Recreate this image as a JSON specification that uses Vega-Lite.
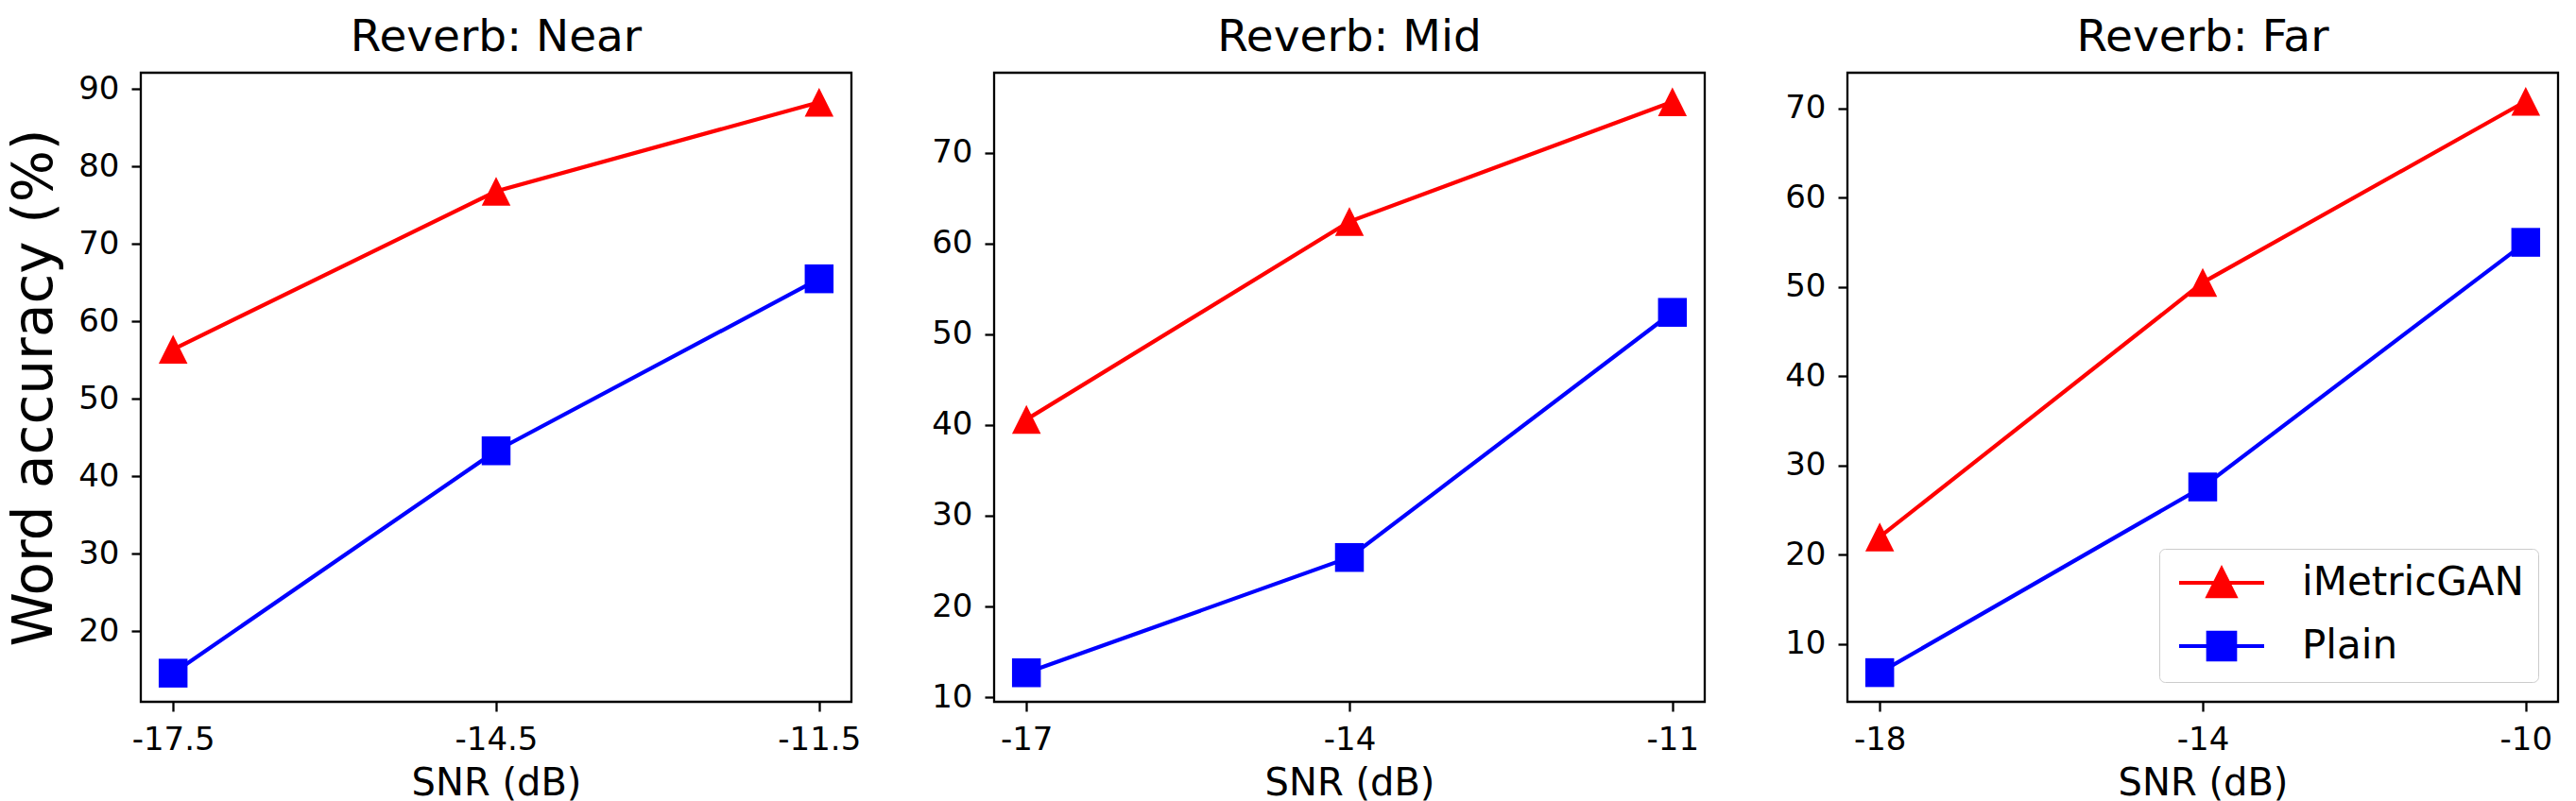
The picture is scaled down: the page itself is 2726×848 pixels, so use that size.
{
  "$schema": "https://vega.github.io/schema/vega-lite/v6.json",
  "padding": {"left": 7, "top": 14, "right": 10, "bottom": 0},
  "datasets": {
    "acc": [
      {"reverb": "Near", "snr": -17.5, "model": "iMetricGAN", "accuracy": 56.4},
      {"reverb": "Near", "snr": -14.5, "model": "iMetricGAN", "accuracy": 76.8},
      {"reverb": "Near", "snr": -11.5, "model": "iMetricGAN", "accuracy": 88.3},
      {"reverb": "Near", "snr": -17.5, "model": "Plain", "accuracy": 14.6},
      {"reverb": "Near", "snr": -14.5, "model": "Plain", "accuracy": 43.3},
      {"reverb": "Near", "snr": -11.5, "model": "Plain", "accuracy": 65.5},
      {"reverb": "Mid", "snr": -17, "model": "iMetricGAN", "accuracy": 40.6},
      {"reverb": "Mid", "snr": -14, "model": "iMetricGAN", "accuracy": 62.4},
      {"reverb": "Mid", "snr": -11, "model": "iMetricGAN", "accuracy": 75.6},
      {"reverb": "Mid", "snr": -17, "model": "Plain", "accuracy": 12.7},
      {"reverb": "Mid", "snr": -14, "model": "Plain", "accuracy": 25.4},
      {"reverb": "Mid", "snr": -11, "model": "Plain", "accuracy": 52.4},
      {"reverb": "Far", "snr": -18, "model": "iMetricGAN", "accuracy": 22.0},
      {"reverb": "Far", "snr": -14, "model": "iMetricGAN", "accuracy": 50.5},
      {"reverb": "Far", "snr": -10, "model": "iMetricGAN", "accuracy": 70.8},
      {"reverb": "Far", "snr": -18, "model": "Plain", "accuracy": 6.8},
      {"reverb": "Far", "snr": -14, "model": "Plain", "accuracy": 27.6},
      {"reverb": "Far", "snr": -10, "model": "Plain", "accuracy": 55.0}
    ]
  },
  "data": {"name": "acc"},
  "bounds": "flush",
  "spacing": 151,
  "hconcat": [
    {
      "title": "Reverb: Near",
      "width": 752,
      "height": 666,
      "transform": [{"filter": "datum.reverb === 'Near'"}],
      "encoding": {
        "x": {
          "field": "snr", "type": "quantitative",
          "scale": {"domain": [-17.8, -11.2], "nice": false, "zero": false},
          "axis": {"values": [-17.5, -14.5, -11.5], "title": "SNR (dB)", "labelExpr": "'' + datum.value"}
        },
        "y": {
          "field": "accuracy", "type": "quantitative",
          "scale": {"domain": [10.9, 92.1], "nice": false, "zero": false},
          "axis": {"values": [20, 30, 40, 50, 60, 70, 80, 90], "title": "Word accuracy (%)", "titleFontSize": 58, "titlePadding": 16}
        },
        "color": {
          "field": "model", "type": "nominal",
          "scale": {"domain": ["iMetricGAN", "Plain"], "range": ["#ff0000", "#0000ff"]},
          "legend": null
        }
      },
      "layer": [
        {"mark": {"type": "line", "strokeWidth": 4.2}},
        {
          "mark": {"type": "point", "filled": true, "opacity": 1, "size": 930},
          "encoding": {
            "shape": {"field": "model", "type": "nominal", "scale": {"domain": ["iMetricGAN", "Plain"], "range": ["M0,-1L-1,1L1,1Z", "square"]}, "legend": null}
          }
        }
      ]
    },
    {
      "title": "Reverb: Mid",
      "width": 752,
      "height": 666,
      "transform": [{"filter": "datum.reverb === 'Mid'"}],
      "encoding": {
        "x": {
          "field": "snr", "type": "quantitative",
          "scale": {"domain": [-17.3, -10.7], "nice": false, "zero": false},
          "axis": {"values": [-17, -14, -11], "title": "SNR (dB)", "labelExpr": "'' + datum.value"}
        },
        "y": {
          "field": "accuracy", "type": "quantitative",
          "scale": {"domain": [9.5, 78.8], "nice": false, "zero": false},
          "axis": {"values": [10, 20, 30, 40, 50, 60, 70], "title": null}
        },
        "color": {
          "field": "model", "type": "nominal",
          "scale": {"domain": ["iMetricGAN", "Plain"], "range": ["#ff0000", "#0000ff"]},
          "legend": null
        }
      },
      "layer": [
        {"mark": {"type": "line", "strokeWidth": 4.2}},
        {
          "mark": {"type": "point", "filled": true, "opacity": 1, "size": 930},
          "encoding": {
            "shape": {"field": "model", "type": "nominal", "scale": {"domain": ["iMetricGAN", "Plain"], "range": ["M0,-1L-1,1L1,1Z", "square"]}, "legend": null}
          }
        }
      ]
    },
    {
      "title": "Reverb: Far",
      "width": 752,
      "height": 666,
      "transform": [{"filter": "datum.reverb === 'Far'"}],
      "encoding": {
        "x": {
          "field": "snr", "type": "quantitative",
          "scale": {"domain": [-18.4, -9.6], "nice": false, "zero": false},
          "axis": {"values": [-18, -14, -10], "title": "SNR (dB)", "labelExpr": "'' + datum.value"}
        },
        "y": {
          "field": "accuracy", "type": "quantitative",
          "scale": {"domain": [3.53, 74.0], "nice": false, "zero": false},
          "axis": {"values": [10, 20, 30, 40, 50, 60, 70], "title": null}
        }
      },
      "layer": [
        {
          "mark": {"type": "line", "strokeWidth": 4.2},
          "encoding": {
            "color": {
              "field": "model", "type": "nominal",
              "scale": {"domain": ["iMetricGAN", "Plain"], "range": ["#ff0000", "#0000ff"]},
              "legend": {
                "title": null,
                "orient": "bottom-right",
                "offset": 21,
                "labelFontSize": 42,
                "labelColor": "black",
                "labelOffset": 94,
                "labelLimit": 0,
                "symbolSize": 900,
                "padding": 15,
                "rowPadding": 21,
                "strokeColor": "#cccccc",
                "fillColor": "white",
                "cornerRadius": 6,
                "encode": {
                  "symbols": {
                    "update": {
                      "shape": {"signal": "datum.value === 'iMetricGAN' ? 'M-1,0L5,0M2,-0.95L1.05,0.95L2.95,0.95Z' : 'M-1,0L5,0M1.05,-0.95L2.95,-0.95L2.95,0.95L1.05,0.95Z'"},
                      "fill": {"signal": "datum.value === 'iMetricGAN' ? '#ff0000' : '#0000ff'"},
                      "stroke": {"signal": "datum.value === 'iMetricGAN' ? '#ff0000' : '#0000ff'"},
                      "strokeWidth": {"value": 4.2},
                      "opacity": {"value": 1},
                      "fillOpacity": {"value": 1}
                    }
                  }
                }
              }
            }
          }
        },
        {
          "transform": [{"filter": "datum.model === 'iMetricGAN'"}],
          "mark": {"type": "point", "filled": true, "opacity": 1, "size": 930, "shape": "M0,-1L-1,1L1,1Z", "color": "#ff0000"}
        },
        {
          "transform": [{"filter": "datum.model === 'Plain'"}],
          "mark": {"type": "point", "filled": true, "opacity": 1, "size": 930, "shape": "square", "color": "#0000ff"}
        }
      ]
    }
  ],
  "resolve": {"scale": {"color": "independent", "shape": "independent"}, "legend": {"color": "independent"}},
  "config": {
    "font": "DejaVu Sans",
    "view": {"stroke": "black", "strokeWidth": 2.3},
    "axis": {
      "grid": false,
      "domain": false,
      "ticks": true,
      "tickColor": "black",
      "tickWidth": 2.3,
      "tickSize": 10,
      "labelFont": "DejaVu Sans",
      "labelFontSize": 34,
      "labelColor": "black",
      "labelPadding": 13,
      "labelFlush": false,
      "labelOverlap": false,
      "titleFont": "DejaVu Sans",
      "titleFontSize": 40,
      "titleFontWeight": "normal",
      "titleColor": "black",
      "titlePadding": 9
    },
    "legend": {"labelFont": "DejaVu Sans"},
    "title": {
      "font": "DejaVu Sans",
      "fontSize": 47,
      "fontWeight": "normal",
      "color": "black",
      "baseline": "alphabetic",
      "offset": 13,
      "frame": "group"
    }
  }
}
